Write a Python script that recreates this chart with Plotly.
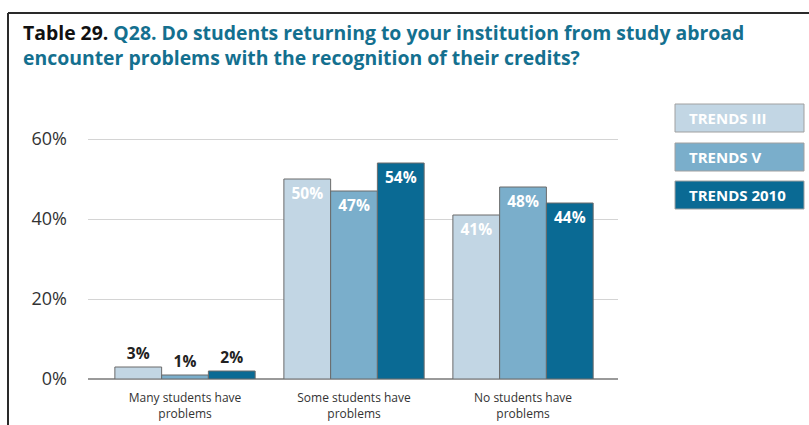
import plotly.graph_objects as go

categories = ["Many students have<br>problems", "Some students have<br>problems", "No students have<br>problems"]
series_names = ["TRENDS III", "TRENDS V", "TRENDS 2010"]
trends_iii = [3, 50, 41]
trends_v = [1, 47, 48]
trends_2010 = [2, 54, 44]
series_values = [trends_iii, trends_v, trends_2010]
colors = ["#c2d6e4", "#7aaecb", "#0a6a94"]
y_ticks = [0, 20, 40, 60]

W, H = 809, 425
ML, MR, MT, MB = 88, 191, 119, 46
PW, PH = W - ML - MR, H - MT - MB

def px_x(px):
    return (px - ML) / PW

def px_y(py):
    return (H - MB - py) / PH

FONT = "Open Sans"
fig = go.Figure()
for name, vals, col in zip(series_names, series_values, colors):
    pos = ["outside" if v < 10 else "inside" for v in vals]
    tcol = ["#222222" if v < 10 else "#ffffff" for v in vals]
    tf = dict(color=tcol, size=15.5, family=FONT, weight="bold")
    fig.add_trace(go.Bar(
        x=list(range(len(categories))), y=vals, name=name,
        marker=dict(color=col, line=dict(color="#6b6b6b", width=1)),
        text=[f"{v}%" for v in vals], textposition=pos,
        insidetextanchor="end",
        textfont=tf, outsidetextfont=tf, insidetextfont=tf,
        cliponaxis=False, showlegend=False,
    ))

fig.update_layout(
    width=W, height=H,
    margin=dict(l=ML, r=MR, t=MT, b=MB),
    paper_bgcolor="white", plot_bgcolor="white",
    barmode="group", bargap=0.17, bargroupgap=0,
    font=dict(family=FONT, color="#333333"),
)
fig.update_xaxes(
    tickmode="array", tickvals=list(range(len(categories))), ticktext=categories,
    range=[-0.574, 2.562], showgrid=False, zeroline=False, showline=False,
    ticks="", ticklabelstandoff=10, automargin=False,
    tickfont=dict(size=12, color="#333333", family=FONT),
)
fig.update_yaxes(
    range=[0, 65], tickvals=y_ticks, ticktext=[f"{t}%" for t in y_ticks],
    showgrid=True, gridcolor="#d4d4d4", gridwidth=1,
    zeroline=True, zerolinecolor="#9a9a9a", zerolinewidth=2,
    showline=False, ticks="", ticklabelstandoff=20, automargin=False,
    tickfont=dict(size=18, color="#333333", family=FONT),
)

shapes = [
    dict(type="line", xref="paper", yref="paper", x0=px_x(8), x1=px_x(812), y0=px_y(13), y1=px_y(13),
         line=dict(color="#2a2a2a", width=2)),
    dict(type="line", xref="paper", yref="paper", x0=px_x(8), x1=px_x(8), y0=px_y(13), y1=px_y(430),
         line=dict(color="#2a2a2a", width=2)),
]
annotations = []
box_tops = [104, 143, 181]
for name, col, top in zip(series_names, colors, box_tops):
    shapes.append(dict(type="rect", xref="paper", yref="paper",
                       x0=px_x(675), x1=px_x(804), y0=px_y(top + 28), y1=px_y(top),
                       fillcolor=col, line=dict(color="#a0a0a0", width=1)))
    annotations.append(dict(xref="paper", yref="paper", x=px_x(687), y=px_y(top + 14),
                            xanchor="left", yanchor="middle", showarrow=False,
                            text=f"<b>{name}</b>", font=dict(size=15, color="white", family=FONT)))

annotations.append(dict(
    xref="paper", yref="paper", x=px_x(21), y=px_y(17), xanchor="left", yanchor="top",
    align="left", showarrow=False,
    text="<b><span style='color:#111111'>Table 29.</span> Q28. Do students returning to your institution from study abroad<br>encounter problems with the recognition of their credits?</b>",
    font=dict(size=19.4, color="#14708f", family=FONT),
))

fig.update_layout(shapes=shapes, annotations=annotations)
fig.write_html("out.html")
